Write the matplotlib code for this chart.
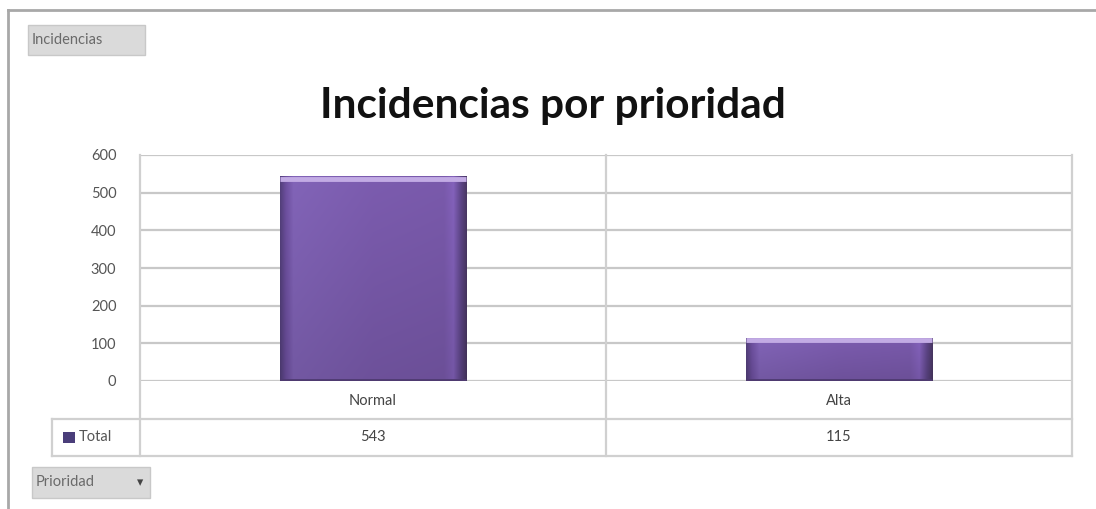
import numpy as np
import matplotlib
matplotlib.use("Agg")
import matplotlib.pyplot as plt
from matplotlib.patches import Rectangle, FancyBboxPatch
from matplotlib.lines import Line2D
from matplotlib.colors import to_rgb
from matplotlib.transforms import offset_copy

plt.rcParams['font.family'] = ['Lato', 'DejaVu Sans']

# Data
categories = ["Normal", "Alta"]
totals = [543, 115]
series_name = "Total"
title = "Incidencias por prioridad"
y_ticks = [0, 100, 200, 300, 400, 500, 600]
filter_button = "Incidencias"
field_button = "Prioridad"

W, H = 1096, 509
fig = plt.figure(figsize=(W / 100, H / 100), dpi=100)
fig.patch.set_facecolor("white")


def fx(px):
    return px / W


def fy(py):
    return 1 - py / H


# Outer frame (top and left edges)
fig.add_artist(Line2D([fx(8), fx(1096)], [fy(10), fy(10)], color="#a8a8a8", lw=2))
fig.add_artist(Line2D([fx(8), fx(8)], [fy(10), fy(509)], color="#a8a8a8", lw=2))

# Plot area
left, right, top, bottom = 140, 1072, 155, 381
ax = fig.add_axes([fx(left), fy(bottom), fx(right - left), (bottom - top) / H])
ax.set_xlim(-0.5, len(categories) - 0.5)
ax.set_ylim(0, 600)
for s in ax.spines.values():
    s.set_visible(False)
ax.set_yticks(y_ticks)
ax.set_yticklabels([str(v) for v in y_ticks])
ax.tick_params(axis="y", length=0, pad=17, labelsize=10.5, labelcolor="#555555")
ax.set_xticks([])
ax.yaxis.grid(True, color="#c8c8c8", lw=1.6)
ax.set_axisbelow(True)

# Bars with a bevelled purple fill
x = np.arange(len(categories))
bar_w = 0.40
bars = ax.bar(x, totals, width=bar_w, color="#7b5aab", edgecolor="none", zorder=2)

stops = [0.0, 0.03, 0.07, 0.5, 0.88, 0.93, 0.97, 1.0]
cols = ["#54407c", "#6e50a0", "#8264b8", "#7c5caf", "#7a5aac", "#8462bc", "#5e4688", "#4a3864"]
rgb = np.array([to_rgb(c) for c in cols])
t = np.linspace(0, 1, 200)
row = np.stack([np.interp(t, stops, rgb[:, k]) for k in range(3)], axis=-1)
vt = np.linspace(0, 1, 120)[:, None, None]
shade = 1.0 - 0.12 * vt  # darker towards the base (image row 0 is top)
grad = np.clip(row[None, :, :] * shade, 0, 1)

top_edge = offset_copy(ax.transData, fig=fig, y=-1.75, units="points")
base_edge = offset_copy(ax.transData, fig=fig, y=1.0, units="points")
for rect, v in zip(bars, totals):
    x0 = rect.get_x()
    x1 = x0 + rect.get_width()
    im = ax.imshow(grad, extent=(x0, x1, 0, v), aspect="auto", zorder=3,
                   interpolation="bilinear")
    im.set_clip_path(rect)
    ax.hlines(v, x0, x1, color="#c2abe4", lw=3.5, zorder=4, transform=top_edge)
    ax.hlines(0, x0, x1, color="#4e3a70", lw=2.0, zorder=4, transform=base_edge)

ax.set_xlim(-0.5, len(categories) - 0.5)
ax.set_ylim(0, 600)

# Data table below the plot
ph = bottom - top
def ay(py):
    return (bottom - py) / ph

tab_left = (52 - left) / (right - left)
line_kw = dict(transform=ax.transAxes, clip_on=False, color="#d0d0d0", lw=1.6)
ax.add_line(Line2D([tab_left, 1], [ay(419), ay(419)], **line_kw))
ax.add_line(Line2D([tab_left, 1], [ay(456), ay(456)], **line_kw))
ax.add_line(Line2D([tab_left, tab_left], [ay(419), ay(456)], **line_kw))
for xa in (0.0, 0.5, 1.0):
    ax.add_line(Line2D([xa, xa], [1, ay(456)], **line_kw))

for xi, cat, val in zip(x, categories, totals):
    ax.text(xi, ay(401), cat, transform=ax.get_xaxis_transform(), ha="center",
            va="center", fontsize=10.5, color="#444444", clip_on=False)
    ax.text(xi, ay(437), str(val), transform=ax.get_xaxis_transform(), ha="center",
            va="center", fontsize=10.5, color="#444444", clip_on=False)

# Legend key in the table row header
fig.add_artist(Rectangle((fx(63), fy(443)), fx(12), (443 - 432) / H,
                         facecolor="#4a3e7a", edgecolor="none"))
fig.text(fx(79), fy(437), series_name, ha="left", va="center", fontsize=10.5,
         color="#555555")

# Title
fig.text(fx(553), fy(118), title, ha="center", va="baseline", fontsize=30.5,
         fontweight="bold", color="#111111")

# Pivot field buttons
def button(x0, y0, x1, y1, label):
    fig.add_artist(FancyBboxPatch((fx(x0), fy(y1)), fx(x1 - x0), (y1 - y0) / H,
                                  boxstyle="square,pad=0", facecolor="#dadada",
                                  edgecolor="#c8c8c8", lw=1))
    fig.text(fx(x0 + 4), fy((y0 + y1) / 2), label, ha="left", va="center",
             fontsize=10.5, color="#6a6a6a")

button(28, 25, 145, 55, filter_button)
button(32, 467, 150, 498, field_button)
fig.text(fx(140), fy(482), "\u25be", ha="center", va="center", fontsize=9,
         color="#444444")

fig.savefig("out.png", dpi=100)
